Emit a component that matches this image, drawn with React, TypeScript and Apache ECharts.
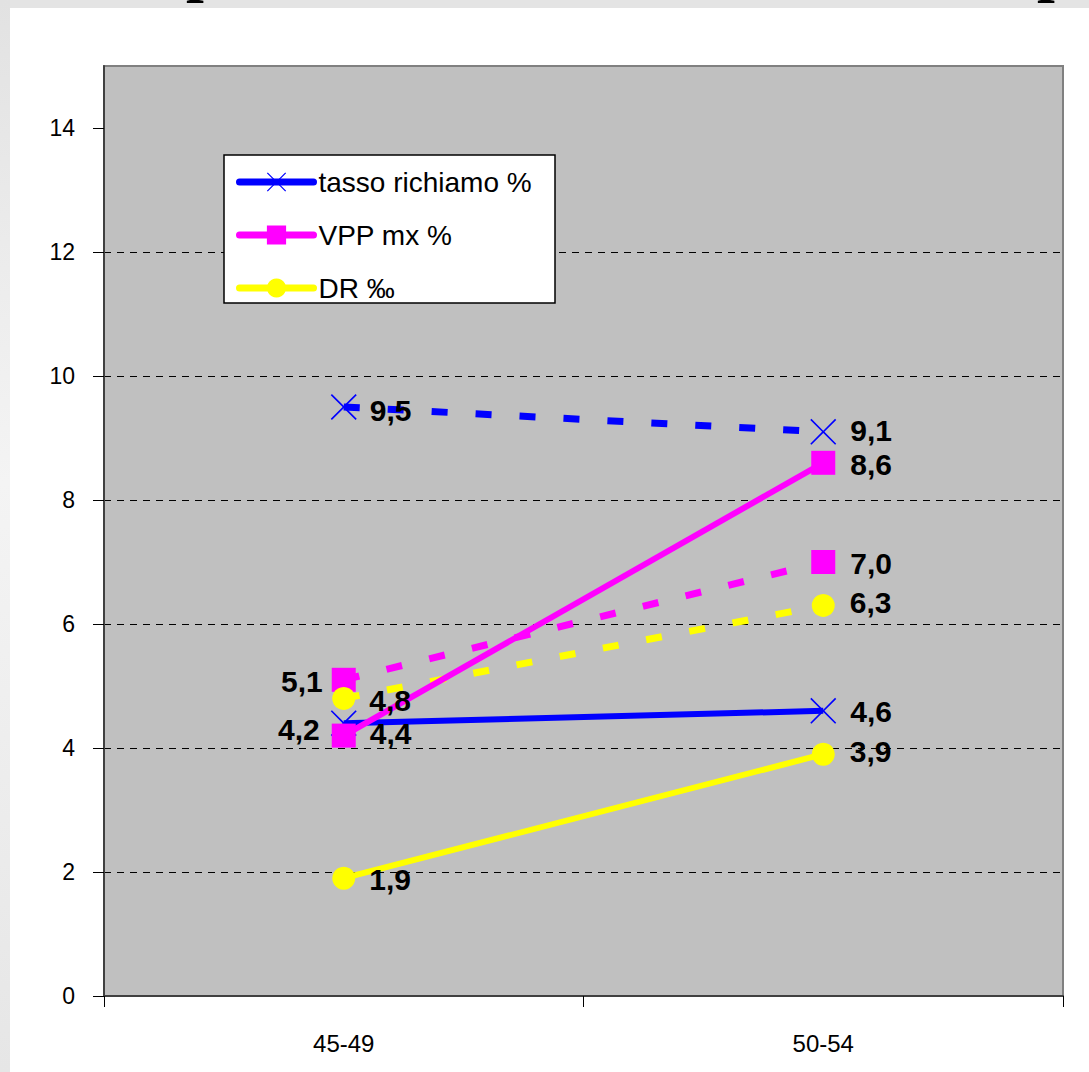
import React, { useEffect, useRef } from 'react';
import * as echarts from 'echarts';

const categories = ['45-49', '50-54'];
const yTicks = [0, 2, 4, 6, 8, 10, 12, 14];
const legendNames = ['tasso richiamo %', 'VPP mx %', 'DR ‰'];
const prevNames = ['tasso richiamo % (b)', 'VPP mx % (b)', 'DR ‰ (b)'];
const tassoRichiamo = [4.4, 4.6];
const vppMx = [4.2, 8.6];
const dr = [1.9, 3.9];
const tassoRichiamoPrev = [9.5, 9.1];
const vppMxPrev = [5.1, 7.0];
const drPrev = [4.8, 6.3];

const FONT = 'Liberation Sans, Arial, sans-serif';
const BLUE = '#0000ff';
const MAGENTA = '#ff00ff';
const YELLOW = '#ffff00';
const XSYM =
  'path://M0,0.045 L0.045,0 L0.5,0.455 L0.955,0 L1,0.045 L0.545,0.5 L1,0.955 L0.955,1 L0.5,0.545 L0.045,1 L0,0.955 L0.455,0.5 Z';

type LabelPlace = [string, number, number];

function makeSeries(
  name: string,
  values: number[],
  color: string,
  symbol: string,
  symbolSize: number,
  dashed: boolean,
  places: LabelPlace[]
) {
  return {
    name,
    type: 'line',
    symbol,
    symbolSize,
    showAllSymbol: true,
    itemStyle: { color },
    lineStyle: {
      color,
      width: dashed ? 7 : 6,
      type: dashed ? [16, 28] : 'solid',
      cap: 'butt',
    },
    data: values.map((v, i) => ({
      value: v,
      label: {
        show: true,
        position: places[i][0],
        distance: places[i][2],
        offset: [0, places[i][1]],
        color: '#000',
        fontSize: 30,
        lineHeight: 30,
        fontWeight: 'bold',
        fontFamily: FONT,
        formatter: (p: any) => Number(p.value).toFixed(1).replace('.', ','),
      },
    })),
    emphasis: { disabled: true },
  };
}

export default function App() {
  const ref = useRef<HTMLDivElement>(null);
  useEffect(() => {
    if (!ref.current) return;
    const chart = echarts.init(ref.current, undefined, { renderer: 'svg' });
    chart.setOption({
      animation: false,
      backgroundColor: 'transparent',
      grid: {
        left: 104,
        right: 26,
        top: 66,
        bottom: 76,
        show: true,
        backgroundColor: '#c0c0c0',
        borderColor: '#808080',
        borderWidth: 2,
      },
      graphic: [
        {
          type: 'rect',
          z: 3,
          shape: { x: 224, y: 155, width: 331, height: 148 },
          style: { fill: '#ffffff', stroke: '#000000', lineWidth: 1.5 },
        },
      ],
      legend: {
        data: legendNames,
        orient: 'vertical',
        left: 236,
        top: 168,
        padding: 0,
        itemWidth: 74,
        itemHeight: 24,
        itemGap: 25,
        itemTextGap: 5,
        z: 10,
        lineStyle: { width: 7, cap: 'round' },
        textStyle: { color: '#000', fontSize: 28, fontFamily: FONT },
      },
      xAxis: {
        type: 'category',
        data: categories,
        boundaryGap: true,
        axisLine: { lineStyle: { color: '#404040', width: 2 } },
        axisTick: { show: true, length: 11, inside: false, lineStyle: { color: '#000', width: 1 } },
        axisLabel: { color: '#000', fontSize: 24, fontFamily: FONT, margin: 35 },
        splitLine: { show: false },
      },
      yAxis: {
        type: 'value',
        min: 0,
        max: 15,
        interval: 2,
        axisLine: { show: true, lineStyle: { color: '#404040', width: 2 } },
        axisTick: { show: true, length: 11, inside: false, customValues: yTicks, lineStyle: { color: '#000', width: 1 } },
        axisLabel: {
          color: '#000',
          fontSize: 23,
          fontFamily: FONT,
          margin: 29,
          customValues: yTicks,
        },
        splitLine: {
          show: true,
          showMinLine: false,
          showMaxLine: false,
          lineStyle: { color: '#000', width: 1, type: [7, 6] },
        },
      },
      series: [
        makeSeries(prevNames[0], tassoRichiamoPrev, BLUE, XSYM, 26, true, [
          ['right', 3, 13],
          ['right', -1, 14],
        ]),
        makeSeries(prevNames[1], vppMxPrev, MAGENTA, 'rect', 24, true, [
          ['left', 2, 9],
          ['right', 1, 15],
        ]),
        makeSeries(prevNames[2], drPrev, YELLOW, 'circle', 23, true, [
          ['right', 2, 14],
          ['right', -3, 15],
        ]),
        makeSeries(legendNames[0], tassoRichiamo, BLUE, XSYM, 26, false, [
          ['right', 10, 13],
          ['right', 1, 14],
        ]),
        makeSeries(legendNames[1], vppMx, MAGENTA, 'rect', 24, false, [
          ['left', -6, 12],
          ['right', 2, 15],
        ]),
        makeSeries(legendNames[2], dr, YELLOW, 'circle', 23, false, [
          ['right', 1, 14],
          ['right', -3, 15],
        ]),
      ],
    });
    return () => chart.dispose();
  }, []);

  return (
    <div style={{ position: 'absolute', left: 0, top: 0, width: 1089, height: 1072, background: '#e4e4e4', overflow: 'hidden' }}>
      <div
        style={{
          position: 'absolute',
          left: 0,
          top: 0,
          width: 10,
          height: 1072,
          background: 'linear-gradient(to bottom, #e2e2e2 0%, #f4f4f4 45%, #e6e6e6 100%)',
        }}
      />
      <div style={{ position: 'absolute', left: 10, top: 8, width: 1079, height: 1064, background: '#ffffff' }} />
      <div style={{ position: 'absolute', left: 0, top: 0, width: 1089, height: 8, overflow: 'hidden' }}>
        <span
          style={{
            position: 'absolute',
            left: 186,
            top: -64,
            fontFamily: 'Liberation Serif, serif',
            fontWeight: 'bold',
            fontSize: 64,
            lineHeight: '64px',
            color: '#000',
          }}
        >
          p
        </span>
        <span
          style={{
            position: 'absolute',
            left: 1037,
            top: -64,
            fontFamily: 'Liberation Serif, serif',
            fontWeight: 'bold',
            fontSize: 64,
            lineHeight: '64px',
            color: '#000',
          }}
        >
          p
        </span>
      </div>
      <div ref={ref} style={{ position: 'absolute', left: 0, top: 0, width: 1089, height: 1072 }} />
    </div>
  );
}
